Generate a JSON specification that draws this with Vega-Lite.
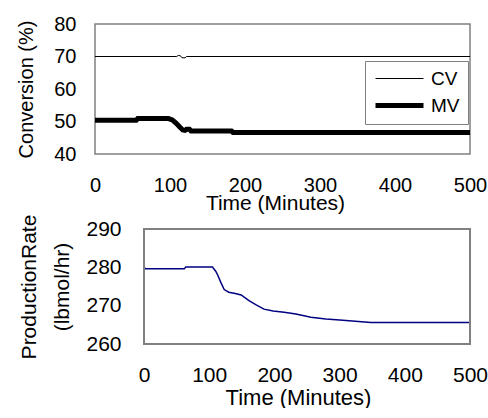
{
  "$schema": "https://vega.github.io/schema/vega-lite/v6.json",
  "padding": {"left": 16, "top": 13, "right": 0, "bottom": 0},
  "background": "white",
  "spacing": 0,
  "config": {
    "view": {"stroke": "#808080", "strokeWidth": 1.5},
    "font": "Liberation Sans",
    "axis": {
      "ticks": false,
      "grid": false,
      "domain": false,
      "labelFlush": false,
      "labelOverlap": false,
      "labelColor": "black",
      "titleColor": "black",
      "labelFont": "Liberation Sans",
      "titleFont": "Liberation Sans",
      "titleFontWeight": "normal"
    }
  },
  "vconcat": [
    {
      "width": 375,
      "height": 130,
      "data": {
        "values": [
          {"t": 0, "v": 70, "series": "CV"},
          {"t": 109, "v": 70, "series": "CV"},
          {"t": 111, "v": 70.35, "series": "CV"},
          {"t": 114, "v": 70.2, "series": "CV"},
          {"t": 116, "v": 69.6, "series": "CV"},
          {"t": 120, "v": 69.6, "series": "CV"},
          {"t": 122, "v": 70, "series": "CV"},
          {"t": 500, "v": 70, "series": "CV"},
          {"t": 0, "v": 50.4, "series": "MV"},
          {"t": 55, "v": 50.4, "series": "MV"},
          {"t": 57, "v": 50.9, "series": "MV"},
          {"t": 98, "v": 50.9, "series": "MV"},
          {"t": 103, "v": 50.5, "series": "MV"},
          {"t": 108, "v": 49.5, "series": "MV"},
          {"t": 113, "v": 48.3, "series": "MV"},
          {"t": 117, "v": 47.4, "series": "MV"},
          {"t": 120, "v": 47.3, "series": "MV"},
          {"t": 122, "v": 47.6, "series": "MV"},
          {"t": 126, "v": 47.6, "series": "MV"},
          {"t": 128, "v": 47.1, "series": "MV"},
          {"t": 182, "v": 47.1, "series": "MV"},
          {"t": 184, "v": 46.65, "series": "MV"},
          {"t": 500, "v": 46.65, "series": "MV"}
        ]
      },
      "mark": {"type": "line", "color": "black"},
      "encoding": {
        "x": {
          "field": "t",
          "type": "quantitative",
          "scale": {"domain": [0, 500], "nice": false},
          "axis": {
            "values": [0, 100, 200, 300, 400, 500],
            "title": "Time (Minutes)",
            "labelFontSize": 20,
            "titleFontSize": 21,
            "labelPadding": 21,
            "titlePadding": -3,
            "titleX": 180
          }
        },
        "y": {
          "field": "v",
          "type": "quantitative",
          "scale": {"domain": [40, 80], "nice": false},
          "axis": {
            "values": [40, 50, 60, 70, 80],
            "title": "Conversion (%)",
            "labelFontSize": 20,
            "titleFontSize": 20,
            "labelPadding": 19,
            "titlePadding": 17
          }
        },
        "strokeWidth": {
          "field": "series",
          "type": "ordinal",
          "scale": {"domain": ["CV", "MV"], "range": [1, 5]},
          "legend": {
            "title": null,
            "orient": "none",
            "legendX": 270,
            "legendY": 37,
            "strokeColor": "#808080",
            "fillColor": "white",
            "padding": 8,
            "symbolType": "M-1,0H5",
            "symbolSize": 256,
            "symbolStrokeColor": "black",
            "labelFontSize": 19,
            "labelFont": "Liberation Sans",
            "labelColor": "black",
            "labelOffset": 37,
            "rowPadding": 6
          }
        }
      }
    },
    {
      "width": 375,
      "height": 115,
      "view": {"stroke": null},
      "data": {
        "values": [
          {"t": 0, "v": 280.2},
          {"t": 2, "v": 279.6},
          {"t": 62, "v": 279.6},
          {"t": 64, "v": 280.1},
          {"t": 105, "v": 280.1},
          {"t": 110, "v": 279.0},
          {"t": 113, "v": 278.0},
          {"t": 118, "v": 276.0},
          {"t": 123, "v": 274.2},
          {"t": 130, "v": 273.5},
          {"t": 140, "v": 273.2},
          {"t": 149, "v": 272.8},
          {"t": 161, "v": 271.3},
          {"t": 172, "v": 270.2},
          {"t": 184, "v": 269.1},
          {"t": 198, "v": 268.6},
          {"t": 215, "v": 268.3},
          {"t": 233, "v": 267.8},
          {"t": 256, "v": 267.0},
          {"t": 279, "v": 266.5},
          {"t": 305, "v": 266.2},
          {"t": 348, "v": 265.6},
          {"t": 500, "v": 265.6}
        ]
      },
      "layer": [
        {
          "mark": {"type": "line", "color": "#000080", "strokeWidth": 1.5},
          "encoding": {
            "x": {
              "field": "t",
              "type": "quantitative",
              "scale": {"domain": [-75.15, 500], "nice": false},
              "axis": {
                "values": [0, 100, 200, 300, 400, 500],
                "title": "Time (Minutes)",
                "labelFontSize": 21,
                "titleFontSize": 22,
                "labelPadding": 20,
                "titlePadding": 2,
                "titleX": 203
              }
            },
            "y": {
              "field": "v",
              "type": "quantitative",
              "scale": {"domain": [260, 290], "nice": false},
              "axis": {
                "values": [260, 270, 280, 290],
                "title": ["ProductionRate", "(lbmol/hr)"],
                "offset": -49,
                "labelFontSize": 21,
                "titleFontSize": 21,
                "titleLineHeight": 33,
                "labelPadding": 23,
                "titlePadding": 13
              }
            }
          }
        },
        {
          "mark": {"type": "rect", "filled": false, "stroke": "#808080", "strokeWidth": 1.5},
          "encoding": {
            "x": {
              "datum": 0,
              "type": "quantitative",
              "scale": {"domain": [-75.15, 500], "nice": false},
              "axis": {
                "values": [0, 100, 200, 300, 400, 500],
                "title": "Time (Minutes)",
                "labelFontSize": 21,
                "titleFontSize": 22,
                "labelPadding": 20,
                "titlePadding": 2,
                "titleX": 203
              }
            },
            "x2": {"datum": 500},
            "y": {
              "datum": 260,
              "type": "quantitative",
              "scale": {"domain": [260, 290], "nice": false},
              "axis": {
                "values": [260, 270, 280, 290],
                "title": ["ProductionRate", "(lbmol/hr)"],
                "offset": -49,
                "labelFontSize": 21,
                "titleFontSize": 21,
                "titleLineHeight": 33,
                "labelPadding": 23,
                "titlePadding": 13
              }
            },
            "y2": {"datum": 290}
          }
        }
      ]
    }
  ]
}
